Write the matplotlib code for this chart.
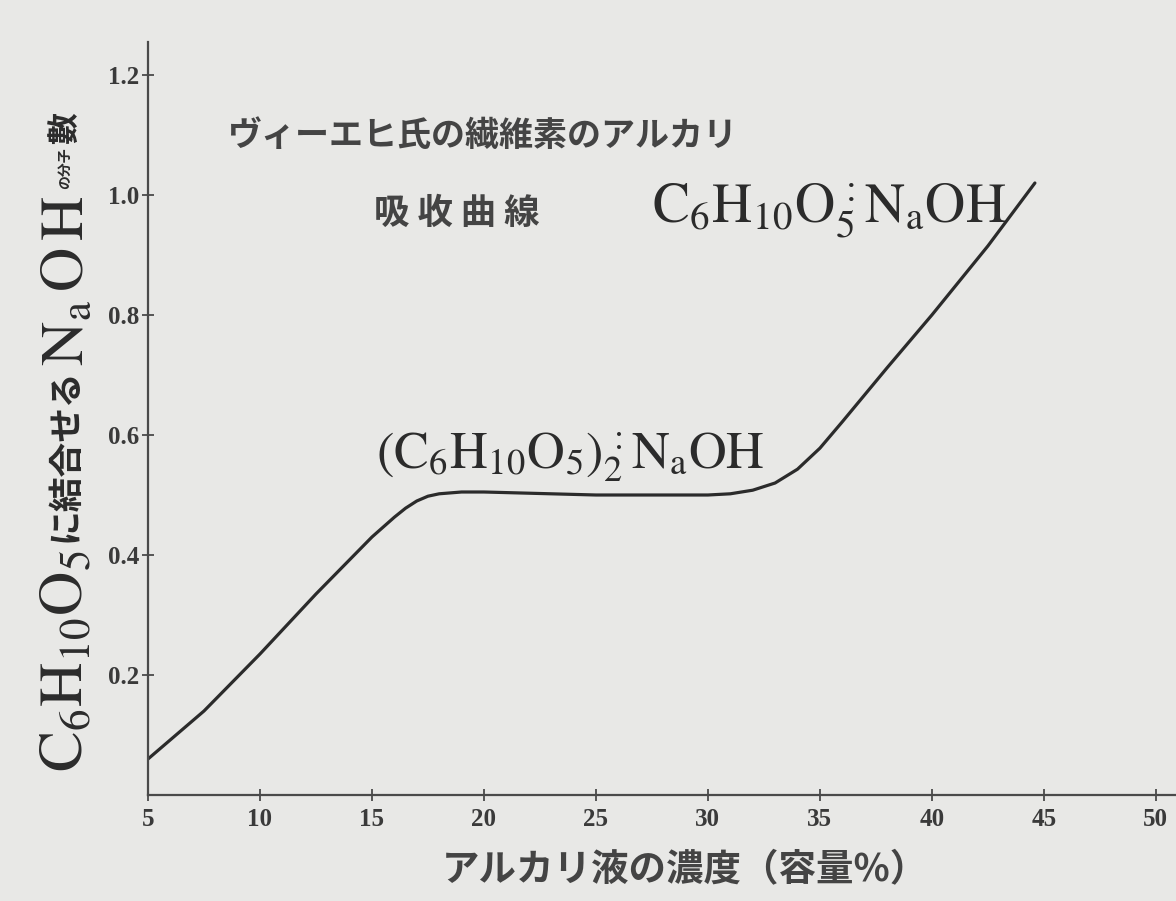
import numpy as np
import matplotlib
matplotlib.use("Agg")
import matplotlib.pyplot as plt

plt.rcParams['mathtext.fontset'] = 'stix'
plt.rcParams['font.family'] = ['Noto Sans CJK JP', 'DejaVu Sans']

# alkali concentration (vol %) and NaOH bound per C6H10O5
conc = [5, 7.5, 10, 12.5, 15, 16, 16.5, 17, 17.5, 18, 19, 20, 25, 30, 31, 32, 33, 34, 35,
        36, 37, 38, 40, 42.5, 44.6]
naoh = [0.06, 0.14, 0.235, 0.335, 0.43, 0.463, 0.478, 0.49, 0.498, 0.502, 0.505, 0.505,
        0.50, 0.50, 0.502, 0.508, 0.52, 0.543, 0.578, 0.622, 0.667, 0.712, 0.80, 0.915, 1.02]
xticks = [5, 10, 15, 20, 25, 30, 35, 40, 45, 50]
yticks = [0.2, 0.4, 0.6, 0.8, 1.0, 1.2]
ytick_labels = ['0.2', '0.4', '0.6', '0.8', '1.0', '1.2']

bg = '#e8e8e6'
ink = '#2b2b2b'
W, H = 1176, 901

fig = plt.figure(figsize=(11.76, 9.01), dpi=100, facecolor=bg)
ax = fig.add_axes([148 / W, (H - 795) / H, 1 - 148 / W, (795 - 42) / H])
ax.set_facecolor(bg)

ax.plot(conc, naoh, color=ink, lw=2.3, solid_capstyle='round', solid_joinstyle='round')

ax.set_xlim(5, 50.9)
ax.set_ylim(0, 1.255)
ax.spines['top'].set_visible(False)
ax.spines['right'].set_visible(False)
for s in ['left', 'bottom']:
    ax.spines[s].set_color('#4a4a4a')
    ax.spines[s].set_linewidth(1.6)

ax.set_xticks(xticks)
ax.set_xticklabels([str(t) for t in xticks])
ax.set_yticks(yticks)
ax.set_yticklabels(ytick_labels)
ax.tick_params(direction='inout', length=9, width=1.3, color='#4a4a4a')
for lab in ax.get_xticklabels() + ax.get_yticklabels():
    lab.set_family('Liberation Serif')
    lab.set_fontweight('bold')
    lab.set_fontsize(18)
    lab.set_color('#3a3a3a')
ax.tick_params(axis='x', pad=5)
ax.tick_params(axis='y', pad=2)

# annotations
ax.text(8.56, 1.10, 'ヴィーエヒ氏の繊維素のアルカリ', fontsize=24.5, fontweight='bold',
        color='#444444', va='center', ha='left')
ax.text(15.1, 0.97, '吸 收 曲 線', fontsize=25.5, fontweight='bold',
        color='#444444', va='center', ha='left')
ax.text(27.5, 0.955, r'$\mathrm{C_6H_{10}O_5^{\,:}N_aOH}$', fontsize=40,
        color=ink, va='baseline', ha='left')
ax.text(15.2, 0.545, r'$\mathrm{(C_6H_{10}O_5)_2^{\,:}N_aOH}$', fontsize=37.5,
        color=ink, va='baseline', ha='left')

# x label
fig.text(685 / W, (H - 870) / H, 'アルカリ液の濃度（容量%）', fontsize=27,
         fontweight='bold', color='#444444', ha='center', va='center')

# y label built from pieces, stacked bottom to top
xc = 65 / W
pieces = [
    (r'$\mathrm{C_6H_{10}O_5}$', 44, 8),
    ('に結合せる', 25, 2),
    (r'$\mathrm{N_a\,O\,H}$', 44, 6),
    ('の分子', 10, 4),
    ('數', 23, 0),
]
renderer = fig.canvas.get_renderer()
ypx = 772
for txt, fs, gap in pieces:
    t = fig.text(xc, (H - ypx) / H, txt, fontsize=fs, rotation=90, color=ink,
                 fontweight='bold', ha='center', va='bottom')
    bb = t.get_window_extent(renderer)
    ypx = ypx - bb.height - gap

fig.savefig('out.png', dpi=100, facecolor=bg)
